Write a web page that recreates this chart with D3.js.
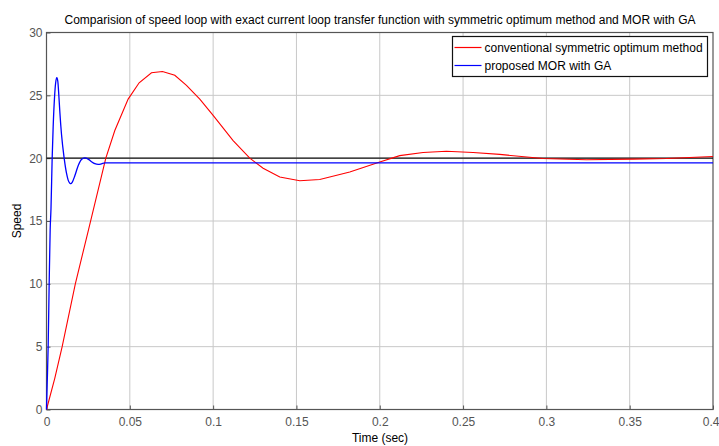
<!DOCTYPE html>
<html>
<head>
<meta charset="utf-8">
<script src="https://cdn.jsdelivr.net/npm/d3@7"></script>
<style>
  body { margin: 0; background: #fff; }
  svg text { font-family: "Liberation Sans", Arial, sans-serif; }
  .grid line { stroke: #c8c8c8; stroke-width: 1; }
  .tick text { fill: #555; font-size: 12px; }
</style>
</head>
<body>
<svg id="chart" width="719" height="446"></svg>
<script>
// Speed responses.
const titleText = "Comparision of speed loop with exact current loop transfer function with symmetric optimum method and MOR with GA";
const xTicks = [0, 0.05, 0.1, 0.15, 0.2, 0.25, 0.3, 0.35, 0.4];
const yTicks = [0, 5, 10, 15, 20, 25, 30];
const reference = 20;

// conventional symmetric optimum method (red)
const convT = [0, 0.005, 0.0094, 0.0173, 0.0252, 0.0356, 0.041, 0.049, 0.0556, 0.063, 0.0696, 0.077, 0.084,
               0.092, 0.1, 0.112, 0.122, 0.13, 0.14, 0.152, 0.164, 0.182, 0.2, 0.212, 0.226, 0.24, 0.256, 0.272,
               0.298, 0.324, 0.352, 0.372, 0.4];
const convS = [0, 2.5, 5, 10, 14.3, 20, 22.2, 24.7, 26.0, 26.8, 26.9, 26.6, 25.8,
               24.7, 23.4, 21.4, 20.0, 19.2, 18.5, 18.2, 18.3, 18.9, 19.7, 20.2, 20.45, 20.55, 20.45, 20.3,
               19.97, 19.88, 19.92, 19.97, 20.13];

// proposed MOR with GA (blue)
const morT = [0, 0.0004, 0.001, 0.0016, 0.0022, 0.0027, 0.0034, 0.004, 0.0048, 0.0055, 0.0062, 0.0068, 0.0074,
              0.008, 0.009, 0.0106, 0.012, 0.013, 0.014, 0.0146, 0.0155, 0.017, 0.019, 0.021, 0.023, 0.025,
              0.027, 0.029, 0.031, 0.033, 0.035, 0.4];
const morS = [0, 2, 5, 10, 14.3, 16, 20, 22.5, 24.8, 26, 26.4, 26.1, 25,
              23.7, 21.9, 20.0, 18.8, 18.25, 18.0, 17.97, 18.1, 18.6, 19.4, 19.9, 20.02, 19.92,
              19.72, 19.56, 19.5, 19.55, 19.62, 19.62];

const conv = convT.map((t, i) => ({ t, s: convS[i] }));
const mor = morT.map((t, i) => ({ t, s: morS[i] }));

const svg = d3.select("#chart");
const m = { left: 46.5, right: 6, top: 32.5, bottom: 36.5 };
const W = 719, H = 446;
const x = d3.scaleLinear().domain([0, 0.4]).range([m.left, W - m.right]);
const y = d3.scaleLinear().domain([0, 30]).range([H - m.bottom, m.top]);

// grid
const grid = svg.append("g").attr("class", "grid");
grid.selectAll(".gx").data(xTicks.slice(1, -1)).join("line")
    .attr("x1", d => x(d)).attr("x2", d => x(d))
    .attr("y1", y(0)).attr("y2", y(30));
grid.selectAll(".gy").data(yTicks.slice(1, -1)).join("line")
    .attr("x1", x(0)).attr("x2", x(0.4))
    .attr("y1", d => y(d)).attr("y2", d => y(d));

// axes
const fmt = d => d === 0 ? "0" : String(d);
const xAxis = svg.append("g").attr("transform", `translate(0,${y(0)})`)
    .call(d3.axisBottom(x).tickValues(xTicks).tickFormat(fmt).tickSize(-4).tickPadding(8));
const yAxis = svg.append("g").attr("transform", `translate(${x(0)},0)`)
    .call(d3.axisLeft(y).tickValues(yTicks).tickFormat(fmt).tickSize(-4).tickPadding(4));
[xAxis, yAxis].forEach(a => {
    a.select(".domain").remove();
    a.selectAll(".tick line").attr("stroke", "#555");
});
// last x label sits against the right edge, as in the figure
xAxis.selectAll(".tick text").filter(d => d === 0.4).attr("text-anchor", "end").attr("dx", 6);

// box
svg.append("rect")
    .attr("x", x(0)).attr("y", y(30))
    .attr("width", x(0.4) - x(0)).attr("height", y(0) - y(30))
    .attr("fill", "none").attr("stroke", "#555").attr("stroke-width", 1.2);

// lines
const line = d3.line().x(d => x(d.t)).y(d => y(d.s));
svg.append("line")
    .attr("x1", x(0)).attr("x2", x(0.4))
    .attr("y1", y(reference)).attr("y2", y(reference))
    .attr("stroke", "#111").attr("stroke-width", 1.2);
svg.append("path").datum(conv)
    .attr("d", line)
    .attr("fill", "none").attr("stroke", "#ff0000").attr("stroke-width", 1.1);
svg.append("path").datum(mor)
    .attr("d", line.curve(d3.curveMonotoneX))
    .attr("fill", "none").attr("stroke", "#0000ff").attr("stroke-width", 1.3);

// legend
const lg = svg.append("g").attr("transform", "translate(452.5,36.5)");
lg.append("rect").attr("width", 255).attr("height", 40)
    .attr("fill", "#fff").attr("stroke", "#111").attr("stroke-width", 1.2);
const items = [["conventional symmetric optimum method", "#ff0000"], ["proposed MOR with GA", "#0000ff"]];
items.forEach(([label, c], i) => {
    const yy = 11 + i * 18;
    lg.append("line").attr("x1", 2).attr("x2", 29).attr("y1", yy).attr("y2", yy)
        .attr("stroke", c).attr("stroke-width", 1.2);
    lg.append("text").attr("x", 32).attr("y", yy + 4.5)
        .attr("font-size", 12).attr("fill", "#000").text(label);
});

// title and labels
svg.append("text").attr("x", 380).attr("y", 24).attr("text-anchor", "middle")
    .attr("font-size", 12).attr("fill", "#000").text(titleText);
svg.append("text").attr("x", 380).attr("y", 442).attr("text-anchor", "middle")
    .attr("font-size", 12).attr("fill", "#000").text("Time (sec)");
svg.append("text").attr("transform", "translate(21,221) rotate(-90)").attr("text-anchor", "middle")
    .attr("font-size", 12).attr("fill", "#000").text("Speed");
</script>
</body>
</html>
